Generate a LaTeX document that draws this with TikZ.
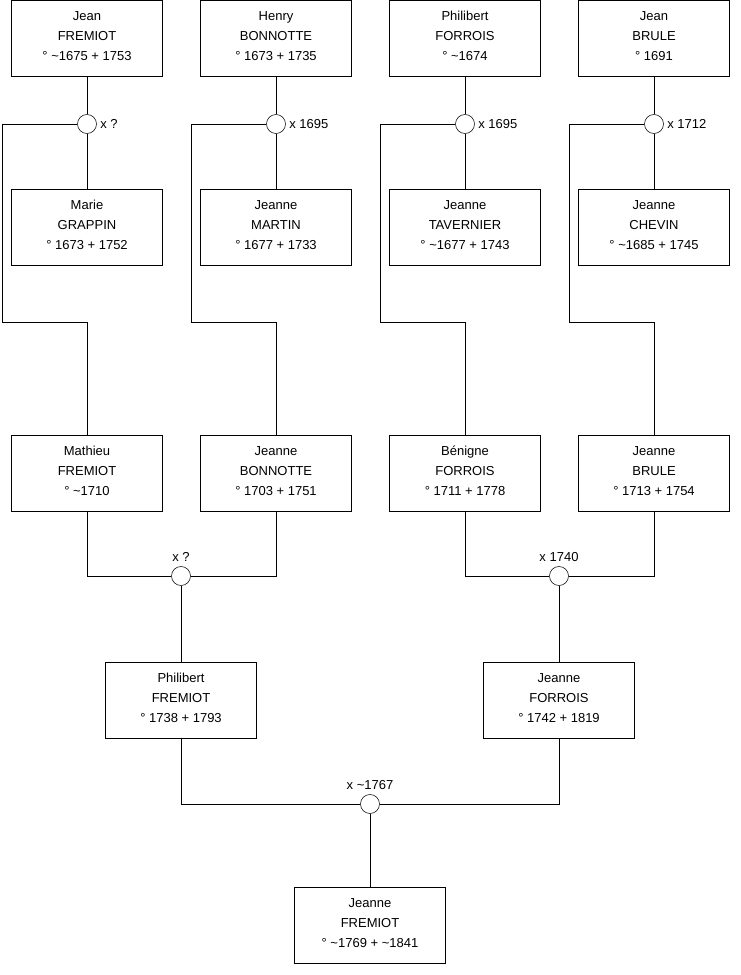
\documentclass[tikz,border=0pt]{standalone}
\usepackage{fontspec}
\setmainfont{Liberation Sans}
\usetikzlibrary{positioning}

\begin{document}
\begin{tikzpicture}[
        x=0.75pt, y=-0.75pt,
        person/.style={
            draw,
            minimum width=113.25pt,
            minimum height=57pt,
            align=center,
            inner sep=0pt,
            text depth=3pt,
            font=\fontsize{9.75}{15}\selectfont
        },
        wed/.style={draw, circle, minimum size=14.25pt, inner sep=0pt, fill=white},
        date/.style={inner sep=1pt, font=\fontsize{9.75}{12}\selectfont},
        line/.style={line width=0.6pt}
    ]
        \useasboundingbox (0,0) rectangle (740,975);

        % great-grandparents
        \node[person] (jf) at (87,38) {Jean \\ FREMIOT \\ ° \textasciitilde1675 + 1753};
        \node[person] (hb) at (276,38) {Henry \\ BONNOTTE \\ ° 1673 + 1735};
        \node[person] (pfo) at (465,38) {Philibert \\ FORROIS \\ ° \textasciitilde1674};
        \node[person] (jbu) at (654,38) {Jean \\ BRULE \\ ° 1691};

        \node[person] (mg) at (87,227) {Marie \\ GRAPPIN \\ ° 1673 + 1752};
        \node[person] (jm) at (276,227) {Jeanne \\ MARTIN \\ ° 1677 + 1733};
        \node[person] (jt) at (465,227) {Jeanne \\ TAVERNIER \\ ° \textasciitilde1677 + 1743};
        \node[person] (jc) at (654,227) {Jeanne \\ CHEVIN \\ ° \textasciitilde1685 + 1745};

        \node[wed] (m1) at (87,124) {};
        \node[wed] (m2) at (276,124) {};
        \node[wed] (m3) at (465,124) {};
        \node[wed] (m4) at (654,124) {};
        \node[date, right=1.5pt of m1] {x ?};
        \node[date, right=1.5pt of m2] {x 1695};
        \node[date, right=1.5pt of m3] {x 1695};
        \node[date, right=1.5pt of m4] {x 1712};

        % grandparents
        \node[person] (mf) at (87,473) {Mathieu \\ FREMIOT \\ ° \textasciitilde1710};
        \node[person] (jbo) at (276,473) {Jeanne \\ BONNOTTE \\ ° 1703 + 1751};
        \node[person] (bf) at (465,473) {Bénigne \\ FORROIS \\ ° 1711 + 1778};
        \node[person] (jbr) at (654,473) {Jeanne \\ BRULE \\ ° 1713 + 1754};

        \node[wed] (m5) at (181,576) {};
        \node[wed] (m6) at (559,576) {};
        \node[date, above=2pt of m5] {x ?};
        \node[date, above=2pt of m6] {x 1740};

        % parents
        \node[person] (pf) at (181,700) {Philibert \\ FREMIOT \\ ° 1738 + 1793};
        \node[person] (jfo) at (559,700) {Jeanne \\ FORROIS \\ ° 1742 + 1819};

        \node[wed] (m7) at (370,804) {};
        \node[date, above=2pt of m7] {x \textasciitilde1767};

        \node[person] (jfr) at (370,925) {Jeanne \\ FREMIOT \\ ° \textasciitilde1769 + \textasciitilde1841};

        % bends
        \coordinate (k1) at (2,322);
        \coordinate (k2) at (191,322);
        \coordinate (k3) at (380,322);
        \coordinate (k4) at (569,322);

        \draw[line] (jf) -- (m1) -- (mg);
        \draw[line] (hb) -- (m2) -- (jm);
        \draw[line] (pfo) -- (m3) -- (jt);
        \draw[line] (jbu) -- (m4) -- (jc);

        \draw[line] (m1.west) -| (k1) -| (mf.north);
        \draw[line] (m2.west) -| (k2) -| (jbo.north);
        \draw[line] (m3.west) -| (k3) -| (bf.north);
        \draw[line] (m4.west) -| (k4) -| (jbr.north);

        \draw[line] (mf.south) |- (m5.west);
        \draw[line] (jbo.south) |- (m5.east);
        \draw[line] (bf.south) |- (m6.west);
        \draw[line] (jbr.south) |- (m6.east);
        \draw[line] (m5) -- (pf);
        \draw[line] (m6) -- (jfo);

        \draw[line] (pf.south) |- (m7.west);
        \draw[line] (jfo.south) |- (m7.east);
        \draw[line] (m7) -- (jfr);
    \end{tikzpicture}
\end{document}
